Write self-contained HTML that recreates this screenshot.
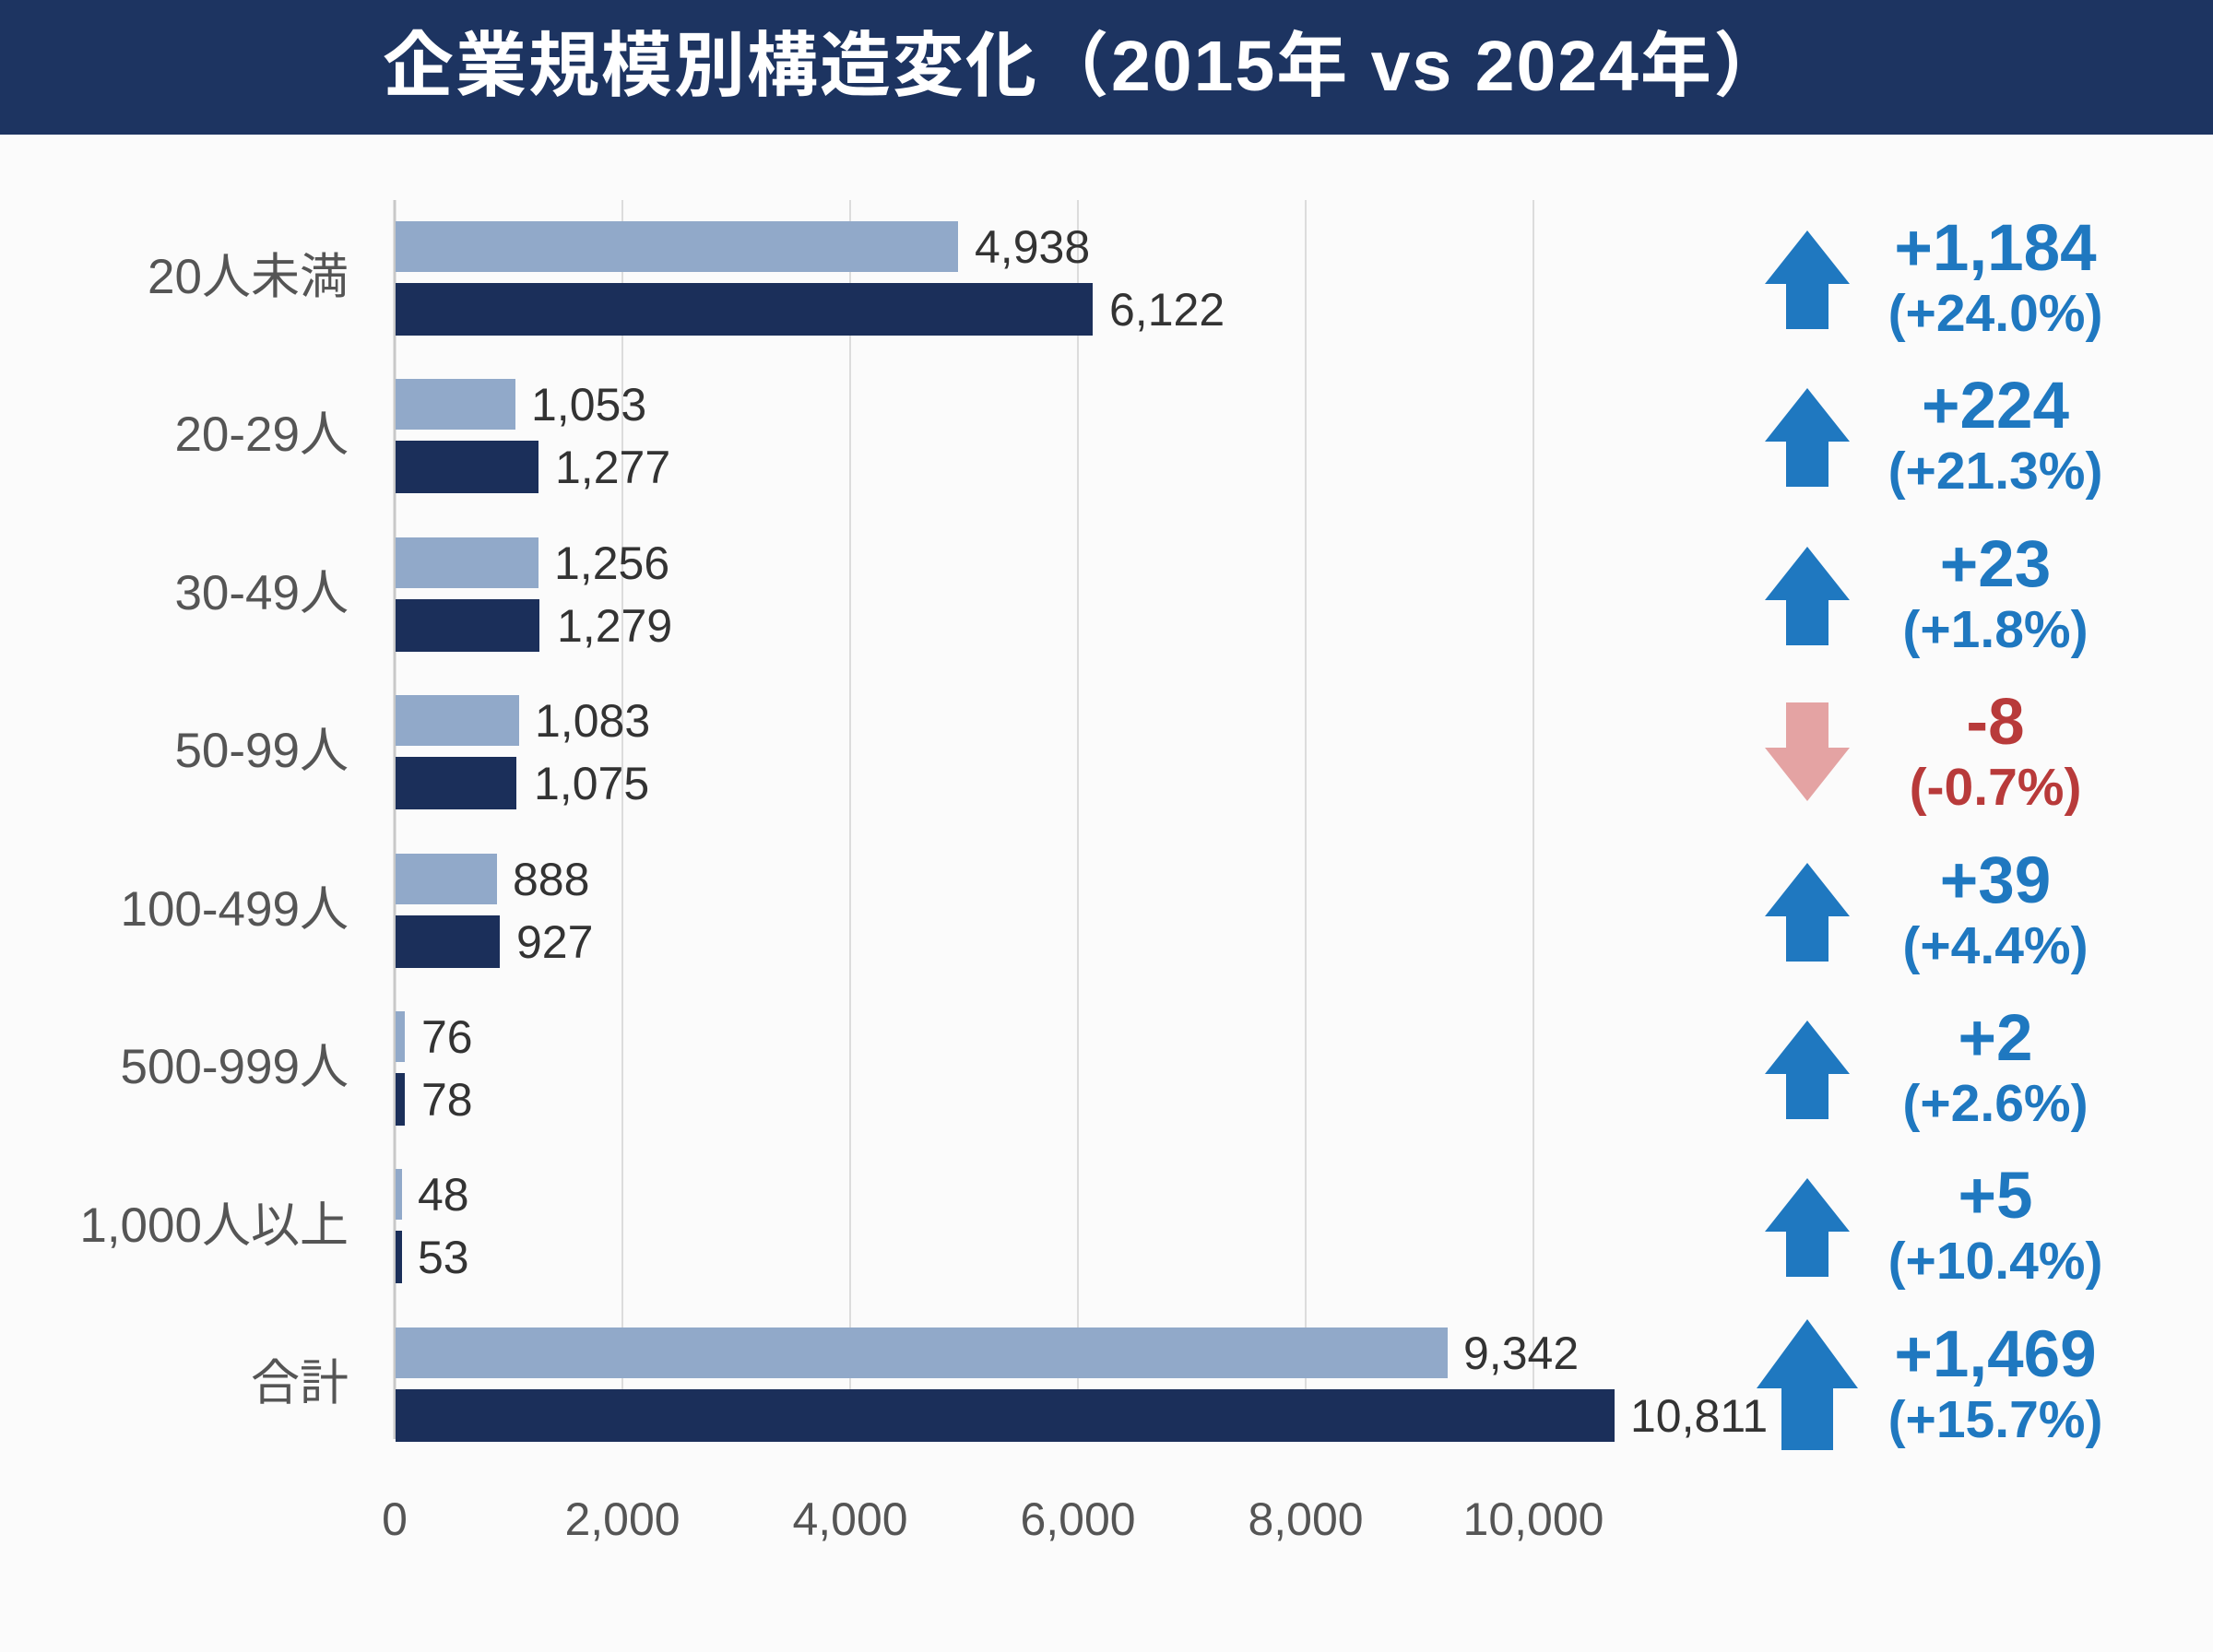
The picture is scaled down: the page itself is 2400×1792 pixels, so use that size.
<!DOCTYPE html>
<html><head><meta charset="utf-8"><style>
html,body{margin:0;padding:0;background:#fbfbfb;}
svg{display:block;font-family:"Liberation Sans","Noto Sans CJK JP",sans-serif;}
</style></head><body>
<svg width="2400" height="1792" viewBox="0 0 2400 1792" xmlns="http://www.w3.org/2000/svg">
<rect width="2400" height="1792" fill="#fbfbfb"/>
<rect width="2400" height="146" fill="#1d3461"/>
<text x="1176" y="98" font-size="77" font-weight="bold" fill="#fff" text-anchor="middle" letter-spacing="2">企業規模別構造変化（2015年 vs 2024年）</text>
<g stroke="#dcdcdc" stroke-width="2">
<line x1="675" y1="217" x2="675" y2="1561"/><line x1="922" y1="217" x2="922" y2="1561"/>
<line x1="1169" y1="217" x2="1169" y2="1561"/><line x1="1416" y1="217" x2="1416" y2="1561"/>
<line x1="1663" y1="217" x2="1663" y2="1561"/>
</g>
<line x1="428" y1="217" x2="428" y2="1561" stroke="#c8c8c8" stroke-width="3"/>
<g font-size="50" fill="#555" text-anchor="middle">
<text x="428" y="1665">0</text><text x="675" y="1665">2,000</text><text x="922" y="1665">4,000</text>
<text x="1169" y="1665">6,000</text><text x="1416" y="1665">8,000</text><text x="1663" y="1665">10,000</text>
</g>
<g font-size="53" fill="#555" text-anchor="end">
<text x="378" y="318">20人未満</text><text x="378" y="489">20-29人</text><text x="378" y="661">30-49人</text>
<text x="378" y="832">50-99人</text><text x="378" y="1004">100-499人</text><text x="378" y="1175">500-999人</text>
<text x="378" y="1347">1,000人以上</text><text x="378" y="1518">合計</text>
</g>
<g fill="#91a9c9">
<rect x="429" y="240" width="610" height="55"/><rect x="429" y="411" width="130" height="55"/>
<rect x="429" y="583" width="155" height="55"/><rect x="429" y="754" width="134" height="55"/>
<rect x="429" y="926" width="110" height="55"/><rect x="429" y="1097" width="10" height="55"/>
<rect x="429" y="1268" width="7" height="55"/><rect x="429" y="1440" width="1141" height="55"/>
</g>
<g fill="#1b2f5a">
<rect x="429" y="307" width="756" height="57"/><rect x="429" y="478" width="155" height="57"/>
<rect x="429" y="650" width="156" height="57"/><rect x="429" y="821" width="131" height="57"/>
<rect x="429" y="993" width="113" height="57"/><rect x="429" y="1164" width="10" height="57"/>
<rect x="429" y="1335" width="7" height="57"/><rect x="429" y="1507" width="1322" height="57"/>
</g>
<g font-size="50" fill="#333">
<text x="1057" y="285">4,938</text><text x="1203" y="353">6,122</text>
<text x="576" y="456">1,053</text><text x="602" y="524">1,277</text>
<text x="601" y="628">1,256</text><text x="604" y="696">1,279</text>
<text x="580" y="799">1,083</text><text x="579" y="867">1,075</text>
<text x="556" y="971">888</text><text x="560" y="1039">927</text>
<text x="457" y="1142">76</text><text x="457" y="1210">78</text>
<text x="453" y="1313">48</text><text x="453" y="1381">53</text>
<text x="1587" y="1485">9,342</text><text x="1768" y="1553">10,811</text>
</g>
<defs>
<path id="up" d="M0 0 L46 58 L23 58 L23 107 L-23 107 L-23 58 L-46 58 Z" fill="#1f78c0"/>
</defs>
<use href="#up" x="1960" y="250"/><use href="#up" x="1960" y="421"/>
<use href="#up" x="1960" y="593"/><use href="#up" x="1960" y="936"/>
<use href="#up" x="1960" y="1107"/><use href="#up" x="1960" y="1278"/>
<path d="M1937 762 L1983 762 L1983 811 L2006 811 L1960 869 L1914 811 L1937 811 Z" fill="#e4a3a3"/>
<path d="M1960 1431 L2015 1506 L1988 1506 L1988 1573 L1932 1573 L1932 1506 L1905 1506 Z" fill="#1f78c0"/>
<g font-weight="bold" text-anchor="middle" fill="#1f78c0">
<text x="2164" y="293" font-size="71">+1,184</text><text x="2164" y="359" font-size="57">(+24.0%)</text>
<text x="2164" y="464" font-size="71">+224</text><text x="2164" y="530" font-size="57">(+21.3%)</text>
<text x="2164" y="636" font-size="71">+23</text><text x="2164" y="702" font-size="57">(+1.8%)</text>
<text x="2164" y="807" font-size="71" fill="#b83a3a">-8</text><text x="2164" y="873" font-size="57" fill="#b83a3a">(-0.7%)</text>
<text x="2164" y="979" font-size="71">+39</text><text x="2164" y="1045" font-size="57">(+4.4%)</text>
<text x="2164" y="1150" font-size="71">+2</text><text x="2164" y="1216" font-size="57">(+2.6%)</text>
<text x="2164" y="1321" font-size="71">+5</text><text x="2164" y="1387" font-size="57">(+10.4%)</text>
<text x="2164" y="1493" font-size="71">+1,469</text><text x="2164" y="1559" font-size="57">(+15.7%)</text>
</g>
</svg>
</body></html>
